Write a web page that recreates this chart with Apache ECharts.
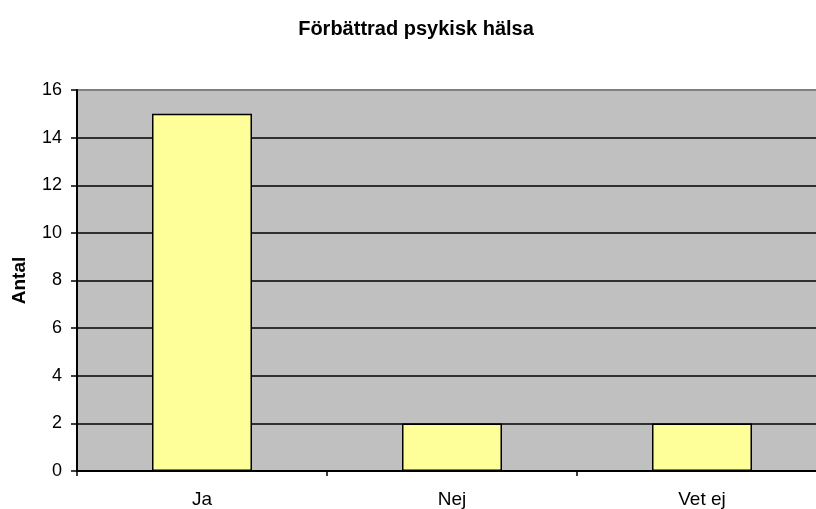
<!DOCTYPE html>
<html lang="sv">
<head>
    <meta charset="UTF-8">
    <title>Förbättrad psykisk hälsa</title>
    <script src="https://cdn.jsdelivr.net/npm/echarts@6/dist/echarts.min.js"></script>
    <style>
        html, body {
            margin: 0;
            padding: 0;
            background-color: #ffffff;
            overflow: hidden;
        }
        /* plot area runs a little past the right edge, like the original */
        #chart {
            width: 827px;
            height: 509px;
        }
    </style>
</head>
<body>
<div id="chart"></div>
<script>
    // data
    var categories = ['Ja', 'Nej', 'Vet ej'];
    var antal = [15, 2, 2];

    var chart = echarts.init(document.getElementById('chart'));

    var font = 'Liberation Sans, Arial, sans-serif';

    var option = {
        backgroundColor: '#ffffff',
        animation: false,
        title: {
            text: 'Förbättrad psykisk hälsa',
            left: 411,
            textAlign: 'center',
            top: 14,
            textStyle: {
                fontFamily: font,
                fontSize: 20,
                fontWeight: 'bold',
                color: '#000'
            }
        },
        grid: {
            left: 77,
            right: 0,
            top: 90,
            bottom: 38,
            show: true,
            backgroundColor: '#c0c0c0',
            borderColor: '#808080',
            borderWidth: 2
        },
        xAxis: {
            type: 'category',
            data: categories,
            boundaryGap: true,
            axisLine: { show: true, lineStyle: { color: '#000', width: 2 } },
            axisTick: { show: true, alignWithLabel: false, length: 5, lineStyle: { color: '#000', width: 1.5 } },
            axisLabel: {
                margin: 19,
                fontFamily: font,
                fontSize: 19,
                color: '#000'
            },
            splitLine: { show: false }
        },
        yAxis: {
            type: 'value',
            min: 0,
            max: 16,
            interval: 2,
            name: 'Antal',
            nameLocation: 'middle',
            nameGap: 48,
            nameTextStyle: {
                fontFamily: font,
                fontSize: 19,
                fontWeight: 'bold',
                color: '#000'
            },
            axisLine: { show: true, lineStyle: { color: '#000', width: 2 } },
            axisTick: { show: true, length: 6, lineStyle: { color: '#000', width: 1.5 } },
            axisLabel: {
                margin: 15,
                fontFamily: font,
                fontSize: 18,
                color: '#000'
            },
            splitLine: {
                show: true,
                showMaxLine: false,
                lineStyle: { color: '#000', width: 1.5 }
            }
        },
        series: [{
            type: 'bar',
            data: antal,
            barWidth: 100,
            itemStyle: {
                color: '#ffff99',
                borderColor: '#000',
                borderWidth: 1.5
            }
        }]
    };

    chart.setOption(option);
</script>
</body>
</html>
